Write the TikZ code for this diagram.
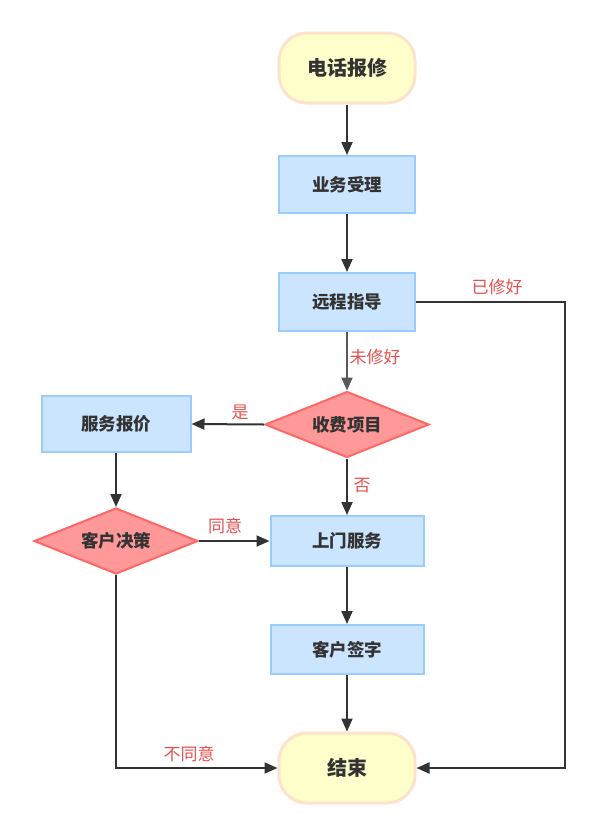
\documentclass[tikz,border=0pt]{standalone}
\usepackage{fontspec}
\setmainfont{Noto Sans CJK SC}
\usetikzlibrary{shapes.geometric,arrows.meta}
\definecolor{txt}{HTML}{333333}
\definecolor{lbl}{HTML}{E65050}
\definecolor{bfill}{HTML}{CCE5FF}
\definecolor{bdraw}{HTML}{99CCFF}
\definecolor{dfill}{HTML}{FF9999}
\definecolor{ddraw}{HTML}{FF6666}
\definecolor{tfill}{HTML}{FFFFCC}
\definecolor{tdraw}{HTML}{FFE2CC}
\definecolor{arr}{HTML}{333333}
\tikzset{
  termbox/.style={draw=tdraw, fill=tfill, line width=3pt, rounded corners=28pt,
    minimum width=136pt, minimum height=70pt, inner sep=0pt, text=txt,
    font=\fontsize{20}{24}\selectfont\bfseries},
  procbox/.style={draw=bdraw, fill=bfill, line width=2pt,
    inner sep=0pt, text=txt, font=\fontsize{17.5}{21}\selectfont\bfseries},
  decbox/.style={diamond, draw=ddraw, fill=dfill, line width=2pt, aspect=2.48,
    minimum width=164pt, minimum height=66pt, inner sep=0pt, text=txt,
    font=\fontsize{17.5}{21}\selectfont\bfseries},
  conn/.style={draw=arr, line width=2pt, -{Triangle[length=13pt,width=11pt]}},
  lab/.style={text=lbl, font=\fontsize{17}{20}\selectfont, inner sep=0pt}
}
\begin{document}
\begin{tikzpicture}[x=1pt,y=-1pt]
\useasboundingbox (0,0) rectangle (600,836);
\node[termbox] (start) at (347,68) {电话报修};
\node[procbox, minimum width=136pt, minimum height=57pt] (accept) at (347,184.5) {业务受理};
\node[procbox, minimum width=136pt, minimum height=58pt] (remote) at (347,302) {远程指导};
\node[decbox] (fee) at (347,424.5) {收费项目};
\node[procbox, minimum width=149pt, minimum height=56pt] (quote) at (116,424) {服务报价};
\node[decbox] (decide) at (116,541) {客户决策};
\node[procbox, minimum width=153pt, minimum height=50pt] (onsite) at (347,541) {上门服务};
\node[procbox, minimum width=153pt, minimum height=49pt] (sign) at (347,649.5) {客户签字};
\node[termbox] (finish) at (347,768) {结束};
\coordinate (rx) at (565,0);

\draw[conn] (start) -- (accept);
\draw[conn] (accept) -- (remote);
\draw[conn, draw=black!65] (remote) -- (fee);
\draw[conn] (fee.west) -- (quote.east);
\draw[conn] (quote) -- (decide);
\draw[conn] (fee.south) -- (onsite.north);
\draw[conn] (decide.east) -- (onsite.west);
\draw[conn] (onsite) -- (sign);
\draw[conn] (sign) -- (finish);
\draw[conn] (remote.east) -- (remote.east -| rx) -- (rx |- finish.east) -- (finish.east);
\draw[conn] (decide.south) |- (finish.west);

\node[lab] (l1) at (497,287) {已修好};
\node[lab] (l2) at (375,357) {未修好};
\node[lab] (l3) at (240,412) {是};
\node[lab] (l4) at (362,486) {否};
\node[lab] (l5) at (225,526) {同意};
\node[lab] (l6) at (189,754) {不同意};
\end{tikzpicture}
\end{document}
